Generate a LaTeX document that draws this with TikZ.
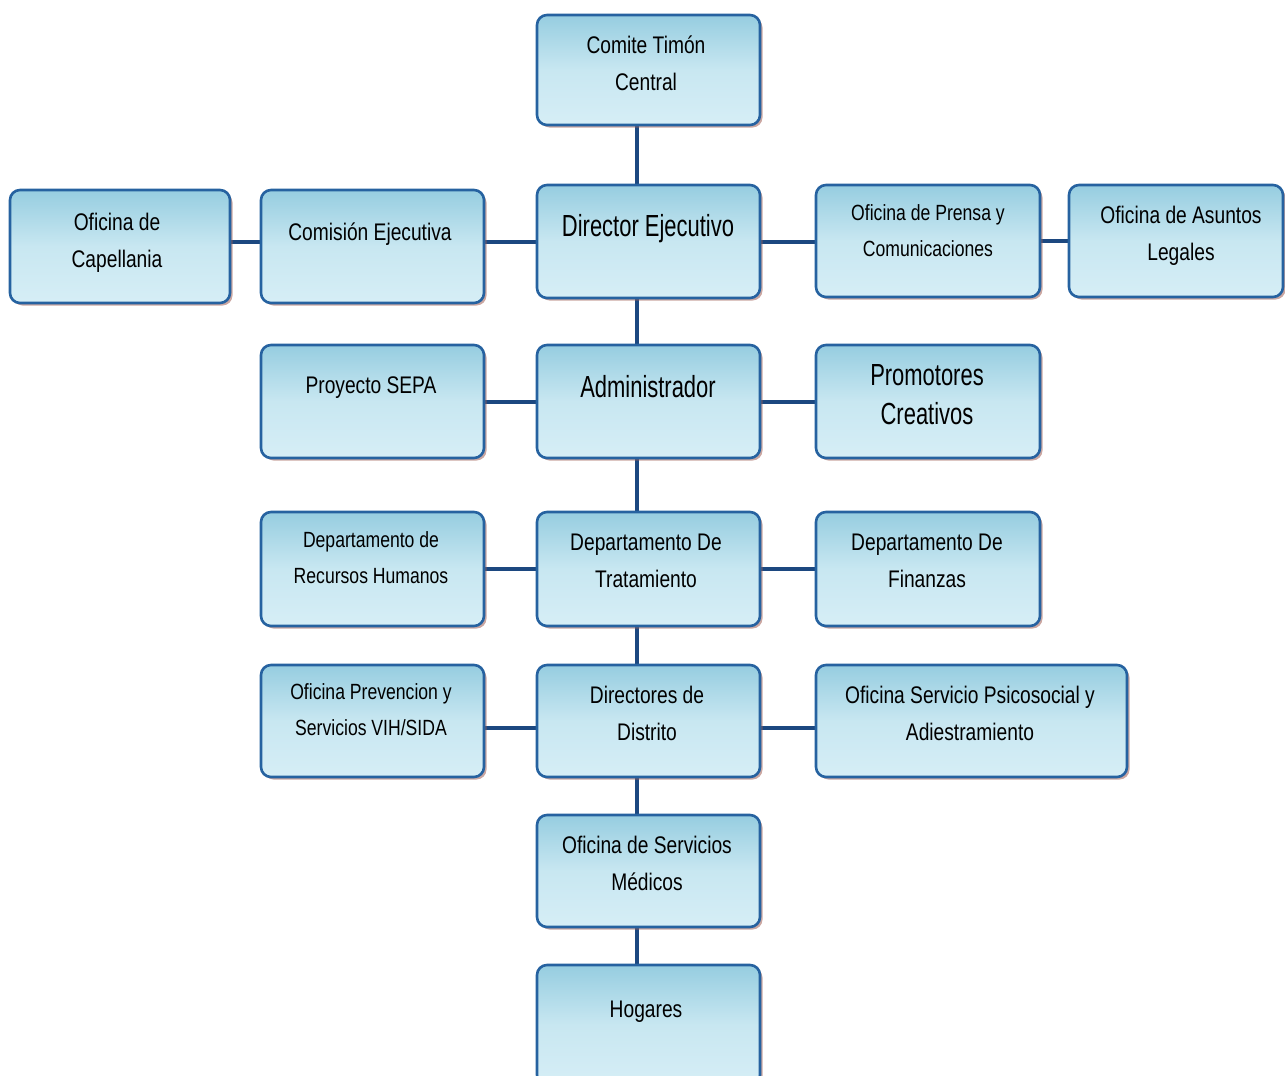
\documentclass[tikz,border=0pt]{standalone}
\usepackage{fontspec}
\setmainfont{Liberation Sans}
\newfontfamily\fnorm[FakeStretch=0.8]{Liberation Sans}
\newfontfamily\fbig[FakeStretch=0.72]{Liberation Sans}
\usetikzlibrary{shadows}
\newcommand\fsnorm{\fnorm\fontsize{24}{36.5}\selectfont}
\newcommand\fssmall{\fnorm\fontsize{22}{36}\selectfont}
\newcommand\fsbig{\fbig\fontsize{30.5}{39}\selectfont}
\definecolor{boxborder}{RGB}{38,98,160}
\definecolor{boxtop}{RGB}{150,205,224}
\definecolor{boxmid}{RGB}{200,231,241}
\definecolor{boxbot}{RGB}{214,238,246}
\definecolor{linkcol}{RGB}{28,72,128}
\definecolor{shadowcol}{RGB}{160,95,85}
\pgfdeclarelayer{bg}
\pgfsetlayers{bg,main}
\tikzset{
  orgbox/.style={draw=boxborder, line width=2.6pt, rounded corners=10pt,
    top color=boxtop, bottom color=boxbot, middle color=boxmid,
    drop shadow={shadow xshift=2.5pt, shadow yshift=-2.5pt, fill=shadowcol, opacity=0.55},
    inner sep=0pt},
  txt/.style={anchor=base, align=center, inner sep=0pt, text=black},
  link/.style={draw=linkcol, line width=4pt}
}
\begin{document}
\begin{tikzpicture}[x=1pt,y=-1pt]
\useasboundingbox (0,0) rectangle (1285,1076);
\clip (0,0) rectangle (1285,1076);
% boxes
\node[orgbox, minimum width=223pt, minimum height=110pt] (A) at (648.5,70) {};
\node[orgbox, minimum width=223pt, minimum height=113pt] (B) at (648.5,241.5) {};
\node[orgbox, minimum width=220pt, minimum height=113pt] (C) at (120,246.5) {};
\node[orgbox, minimum width=223pt, minimum height=113pt] (D) at (372.5,246.5) {};
\node[orgbox, minimum width=224pt, minimum height=112pt] (E) at (928,241) {};
\node[orgbox, minimum width=214pt, minimum height=112pt] (F) at (1176,241) {};
\node[orgbox, minimum width=223pt, minimum height=113pt] (G) at (372.5,401.5) {};
\node[orgbox, minimum width=223pt, minimum height=113pt] (H) at (648.5,401.5) {};
\node[orgbox, minimum width=224pt, minimum height=113pt] (I) at (928,401.5) {};
\node[orgbox, minimum width=223pt, minimum height=114pt] (J) at (372.5,569) {};
\node[orgbox, minimum width=223pt, minimum height=114pt] (K) at (648.5,569) {};
\node[orgbox, minimum width=224pt, minimum height=114pt] (L) at (928,569) {};
\node[orgbox, minimum width=223pt, minimum height=112pt] (M) at (372.5,721) {};
\node[orgbox, minimum width=223pt, minimum height=112pt] (N) at (648.5,721) {};
\node[orgbox, minimum width=311pt, minimum height=112pt] (O) at (971.5,721) {};
\node[orgbox, minimum width=223pt, minimum height=112pt] (P) at (648.5,871) {};
\node[orgbox, minimum width=223pt, minimum height=120pt] (Q) at (648.5,1025) {};
% texts (anchor=base is the baseline of the last line)
\node[txt, font=\fsnorm] (At) at (646,90) {Comite Timón\\Central};
\node[txt, font=\fsbig] (Bt) at (648,236) {Director Ejecutivo};
\node[txt, font=\fsnorm] (Ct) at (117,267) {Oficina de\\Capellania};
\node[txt, font=\fsnorm] (Dt) at (370,240) {Comisión Ejecutiva};
\node[txt, font=\fssmall] (Et) at (928,256) {Oficina de Prensa y\\Comunicaciones};
\node[txt, font=\fsnorm] (Ft) at (1181,260) {Oficina de Asuntos\\Legales};
\node[txt, font=\fsnorm] (Gt) at (371,393) {Proyecto SEPA};
\node[txt, font=\fsbig] (Ht) at (648,397) {Administrador};
\node[txt, font=\fsbig] (It) at (927,424) {Promotores\\Creativos};
\node[txt, font=\fssmall] (Jt) at (371,583) {Departamento de\\Recursos Humanos};
\node[txt, font=\fsnorm] (Kt) at (646,587) {Departamento De\\Tratamiento};
\node[txt, font=\fsnorm] (Lt) at (927,587) {Departamento De\\Finanzas};
\node[txt, font=\fssmall] (Mt) at (371,735) {Oficina Prevencion y\\Servicios VIH/SIDA};
\node[txt, font=\fsnorm] (Nt) at (647,740) {Directores de\\Distrito};
\node[txt, font=\fsnorm] (Ot) at (970,740) {Oficina Servicio Psicosocial y\\Adiestramiento};
\node[txt, font=\fsnorm] (Pt) at (647,890) {Oficina de Servicios\\Médicos};
\node[txt, font=\fsnorm] (Qt) at (646,1017) {Hogares};
% connectors
\begin{pgfonlayer}{bg}
\draw[link] ([xshift=-11.5pt]A.south) -- ([xshift=-11.5pt]B.north);
\draw[link] ([xshift=-11.5pt]B.south) -- ([xshift=-11.5pt]H.north);
\draw[link] ([xshift=-11.5pt]H.south) -- ([xshift=-11.5pt]K.north);
\draw[link] ([xshift=-11.5pt]K.south) -- ([xshift=-11.5pt]N.north);
\draw[link] ([xshift=-11.5pt]N.south) -- ([xshift=-11.5pt]P.north);
\draw[link] ([xshift=-11.5pt]P.south) -- ([xshift=-11.5pt]Q.north);
\draw[link] (C.east |- B.center) -- (D.west |- B.center);
\draw[link] (D.east |- B.center) -- (B.west);
\draw[link] (B.east) -- (E.west |- B.east);
\draw[link] (E.east) -- (F.west);
\draw[link] (G.east) -- (H.west);
\draw[link] (H.east) -- (I.west);
\draw[link] (J.east) -- (K.west);
\draw[link] (K.east) -- (L.west);
\draw[link] ([yshift=-7pt]M.east) -- ([yshift=-7pt]N.west);
\draw[link] ([yshift=-7pt]N.east) -- ([yshift=-7pt]O.west);
\end{pgfonlayer}
\end{tikzpicture}
\end{document}
